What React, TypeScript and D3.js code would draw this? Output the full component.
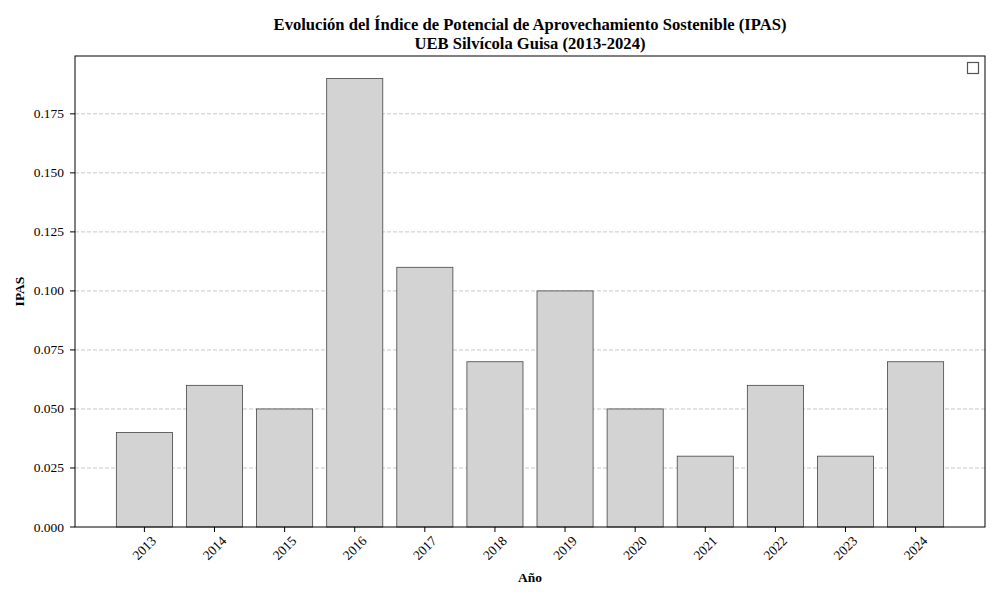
import React, { useEffect, useRef } from 'react';
import * as d3 from 'd3';

const years = ['2013', '2014', '2015', '2016', '2017', '2018', '2019', '2020', '2021', '2022', '2023', '2024'];
const ipas = [0.04, 0.06, 0.05, 0.19, 0.11, 0.07, 0.10, 0.05, 0.03, 0.06, 0.03, 0.07];
const yTicks = [0, 0.025, 0.05, 0.075, 0.1, 0.125, 0.15, 0.175];

const W = 1000;
const H = 600;

const App: React.FC = () => {
  const svgRef = useRef<SVGSVGElement>(null);

  useEffect(() => {
    if (!svgRef.current) return;
    const svg = d3.select(svgRef.current);
    svg.selectAll('*').remove();

    const left = 75, right = 985, top = 56, bottom = 527;
    const font = '"Liberation Serif", "Times New Roman", serif';

    // matplotlib-like limits: bars of width 0.8, 5% margins
    const x = d3.scaleLinear().domain([-0.99, years.length - 1 + 0.99]).range([left, right]);
    const yMax = d3.max(ipas) as number;
    const y = d3.scaleLinear().domain([0, yMax * 1.05]).range([bottom, top]);

    // grid
    svg.append('g')
      .selectAll('line')
      .data(yTicks.slice(1))
      .enter()
      .append('line')
      .attr('x1', left)
      .attr('x2', right)
      .attr('y1', d => y(d))
      .attr('y2', d => y(d))
      .attr('stroke', '#c8c8c8')
      .attr('stroke-width', 1)
      .attr('stroke-dasharray', '4,2');

    // bars
    const bw = x(0.8) - x(0);
    svg.append('g')
      .selectAll('rect')
      .data(ipas)
      .enter()
      .append('rect')
      .attr('x', (_d, i) => x(i) - bw / 2)
      .attr('y', d => y(d))
      .attr('width', bw)
      .attr('height', d => bottom - y(d))
      .attr('fill', '#d3d3d3')
      .attr('stroke', '#444')
      .attr('stroke-width', 0.8);

    // frame
    svg.append('rect')
      .attr('x', left)
      .attr('y', top)
      .attr('width', right - left)
      .attr('height', bottom - top)
      .attr('fill', 'none')
      .attr('stroke', '#000')
      .attr('stroke-width', 1);

    // y ticks
    const yt = svg.append('g');
    yTicks.forEach(t => {
      yt.append('line')
        .attr('x1', left - 5).attr('x2', left)
        .attr('y1', y(t)).attr('y2', y(t))
        .attr('stroke', '#000');
      yt.append('text')
        .attr('x', left - 11)
        .attr('y', y(t))
        .attr('text-anchor', 'end')
        .attr('dominant-baseline', 'central')
        .attr('font-family', font)
        .attr('font-size', 13.5)
        .text(d3.format('.3f')(t));
    });

    // x ticks
    const xt = svg.append('g');
    years.forEach((yr, i) => {
      xt.append('line')
        .attr('x1', x(i)).attr('x2', x(i))
        .attr('y1', bottom).attr('y2', bottom + 5)
        .attr('stroke', '#000');
      xt.append('text')
        .attr('transform', `translate(${x(i)},${bottom + 21}) rotate(-45)`)
        .attr('text-anchor', 'middle')
        .attr('dominant-baseline', 'central')
        .attr('font-family', font)
        .attr('font-size', 13.5)
        .text(yr);
    });

    // axis labels
    svg.append('text')
      .attr('x', (left + right) / 2)
      .attr('y', 582)
      .attr('text-anchor', 'middle')
      .attr('font-family', font)
      .attr('font-weight', 'bold')
      .attr('font-size', 13.5)
      .text('Año');
    svg.append('text')
      .attr('transform', `translate(24,${(top + bottom) / 2}) rotate(-90)`)
      .attr('text-anchor', 'middle')
      .attr('font-family', font)
      .attr('font-weight', 'bold')
      .attr('font-size', 13.5)
      .text('IPAS');

    // title
    const title = svg.append('text')
      .attr('text-anchor', 'middle')
      .attr('font-family', font)
      .attr('font-weight', 'bold')
      .attr('font-size', 16.6);
    title.append('tspan').attr('x', (left + right) / 2).attr('y', 30)
      .text('Evolución del Índice de Potencial de Aprovechamiento Sostenible (IPAS)');
    title.append('tspan').attr('x', (left + right) / 2).attr('y', 49)
      .text('UEB Silvícola Guisa (2013-2024)');

    // empty legend handle
    svg.append('rect')
      .attr('x', 967.5)
      .attr('y', 62.5)
      .attr('width', 11)
      .attr('height', 11)
      .attr('fill', '#fff')
      .attr('stroke', '#555')
      .attr('stroke-width', 1.2);
  }, []);

  return <svg ref={svgRef} width={W} height={H} style={{ display: 'block', position: 'absolute', left: 0, top: 0 }} />;
};

export default App;
